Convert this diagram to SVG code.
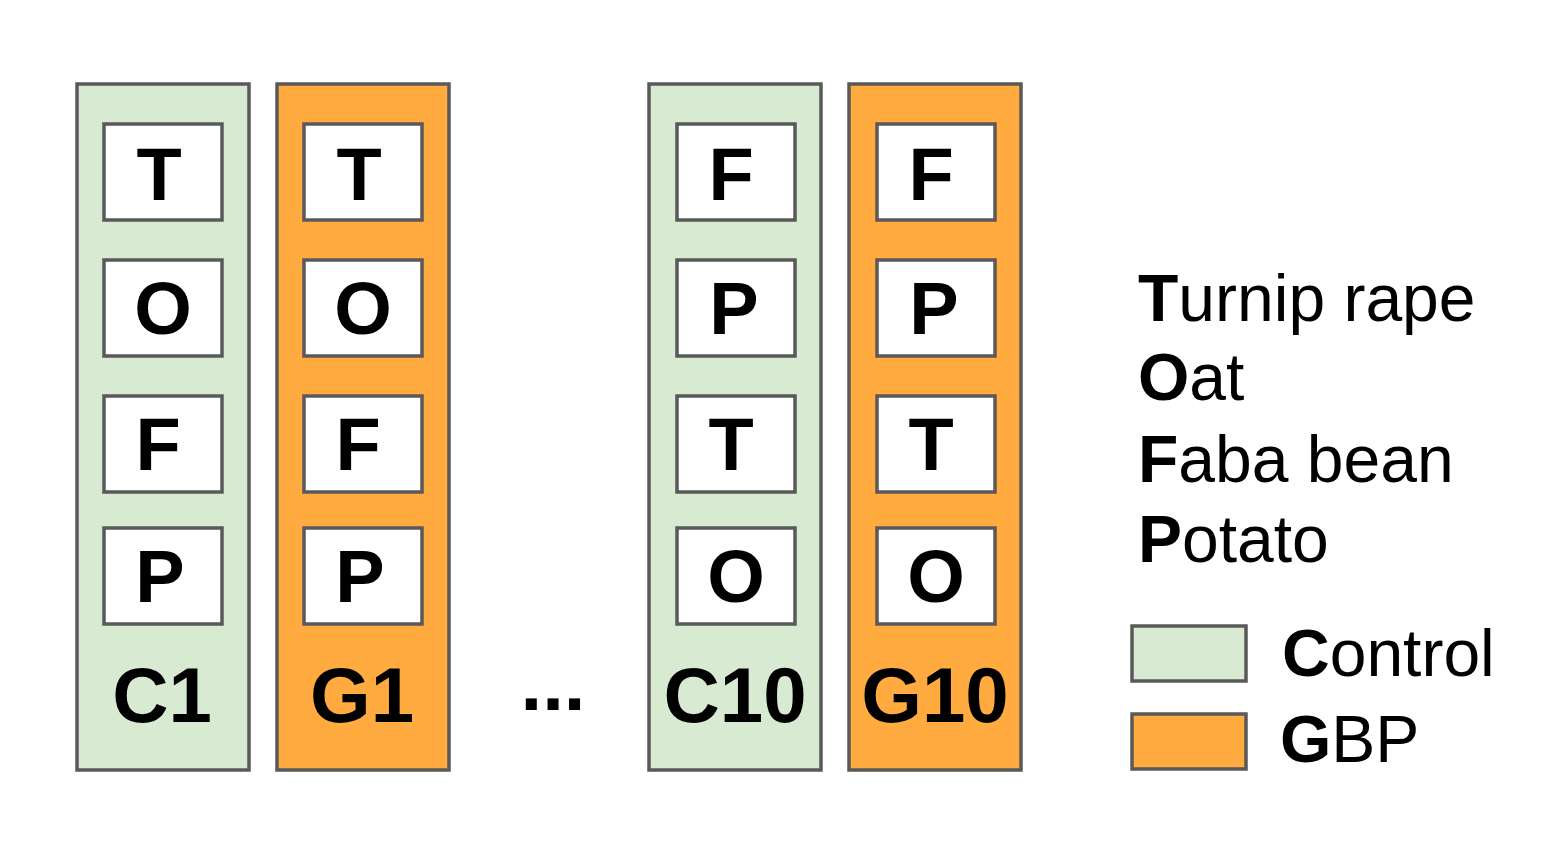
<svg xmlns="http://www.w3.org/2000/svg" width="1563" height="846" viewBox="0 0 1563 846">
<style>
.col{stroke:#595959;stroke-width:3.5}
.ctl{fill:#d9ead3}
.gbp{fill:#ffab40}
.cell{fill:#ffffff;stroke:#595959;stroke-width:3.5}
.lt{font-family:"Liberation Sans",Arial,sans-serif;font-weight:bold;font-size:74px;text-anchor:middle;fill:#000}
.cl{font-family:"Liberation Sans",Arial,sans-serif;font-weight:bold;font-size:78px;text-anchor:middle;fill:#000}
.lg{font-family:"Liberation Sans",Arial,sans-serif;font-size:66px;fill:#000}
.lg tspan.b{font-weight:bold}
</style>
<rect width="1563" height="846" fill="#ffffff"/>
<g id="C1">
<rect class="col ctl" x="77" y="84" width="172" height="686"/>
<rect class="cell" x="104" y="124" width="118" height="96"/><text class="lt" x="159" y="200">T</text>
<rect class="cell" x="104" y="260" width="118" height="96"/><text class="lt" x="163" y="334">O</text>
<rect class="cell" x="104" y="396" width="118" height="96"/><text class="lt" x="158" y="470">F</text>
<rect class="cell" x="104" y="528" width="118" height="96"/><text class="lt" x="160" y="602">P</text>
<text class="cl" x="162" y="722">C1</text>
</g>
<g id="G1">
<rect class="col gbp" x="277" y="84" width="172" height="686"/>
<rect class="cell" x="304" y="124" width="118" height="96"/><text class="lt" x="359" y="200">T</text>
<rect class="cell" x="304" y="260" width="118" height="96"/><text class="lt" x="363" y="334">O</text>
<rect class="cell" x="304" y="396" width="118" height="96"/><text class="lt" x="358" y="470">F</text>
<rect class="cell" x="304" y="528" width="118" height="96"/><text class="lt" x="360" y="602">P</text>
<text class="cl" x="362" y="722">G1</text>
</g>
<g id="ellipsis">
<text class="cl" x="553" y="710">...</text>
</g>
<g id="C10">
<rect class="col ctl" x="649" y="84" width="172" height="686"/>
<rect class="cell" x="677" y="124" width="118" height="96"/><text class="lt" x="731" y="200">F</text>
<rect class="cell" x="677" y="260" width="118" height="96"/><text class="lt" x="734" y="334">P</text>
<rect class="cell" x="677" y="396" width="118" height="96"/><text class="lt" x="731" y="470">T</text>
<rect class="cell" x="677" y="528" width="118" height="96"/><text class="lt" x="736" y="602">O</text>
<text class="cl" x="735" y="722">C10</text>
</g>
<g id="G10">
<rect class="col gbp" x="849" y="84" width="172" height="686"/>
<rect class="cell" x="877" y="124" width="118" height="96"/><text class="lt" x="931" y="200">F</text>
<rect class="cell" x="877" y="260" width="118" height="96"/><text class="lt" x="934" y="334">P</text>
<rect class="cell" x="877" y="396" width="118" height="96"/><text class="lt" x="931" y="470">T</text>
<rect class="cell" x="877" y="528" width="118" height="96"/><text class="lt" x="936" y="602">O</text>
<text class="cl" x="935" y="722">G10</text>
</g>
<g id="legend-crops">
<text class="lg" x="1138" y="321"><tspan class="b">T</tspan>urnip rape</text>
<text class="lg" x="1138" y="400"><tspan class="b">O</tspan>at</text>
<text class="lg" x="1138" y="482"><tspan class="b">F</tspan>aba bean</text>
<text class="lg" x="1138" y="562"><tspan class="b">P</tspan>otato</text>
</g>
<g id="legend-control">
<rect class="col ctl" x="1132" y="626" width="114" height="55"/>
<text class="lg" x="1282" y="676"><tspan class="b">C</tspan>ontrol</text>
</g>
<g id="legend-gbp">
<rect class="col gbp" x="1132" y="714" width="114" height="55"/>
<text class="lg" x="1280" y="762"><tspan class="b">G</tspan>BP</text>
</g>
<g id="connectors"></g>
</svg>
